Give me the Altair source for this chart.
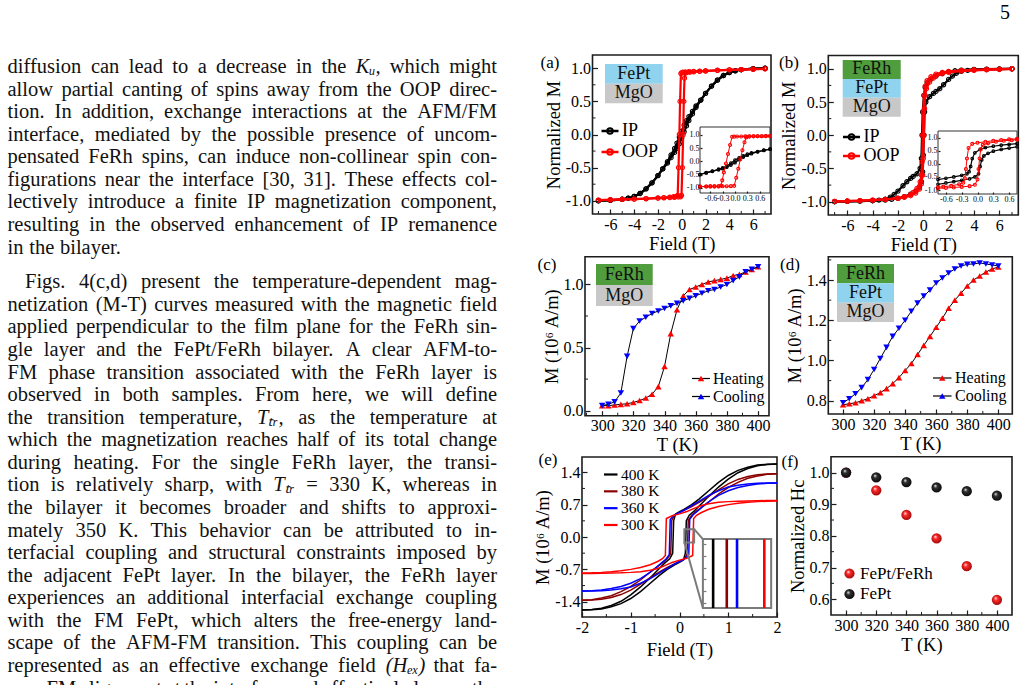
import altair as alt
import pandas as pd

FONT = "Liberation Serif"
INK = "#1c1c1c"
PAGE_W, PAGE_H = 1029, 685
RED, BLUE, BLACK, MAROON = "#ff0000", "#0000ff", "#000000", "#8b0000"
C_FEPT, C_MGO, C_FERH = "#8fd3ef", "#c8c8c8", "#4f9d3c"

# ------------------------------------------------------------------ body text
PARA_1 = [
    "diffusion can lead to a decrease in the Kᵤ, which might",
    "allow partial canting of spins away from the OOP direc-",
    "tion. In addition, exchange interactions at the AFM/FM",
    "interface, mediated by the possible presence of uncom-",
    "pensated FeRh spins, can induce non-collinear spin con-",
    "figurations near the interface [30, 31]. These effects col-",
    "lectively introduce a finite IP magnetization component,",
    "resulting in the observed enhancement of IP remanence",
    "in the bilayer.",
]
PARA_2 = [
    "Figs. 4(c,d) present the temperature-dependent mag-",
    "netization (M-T) curves measured with the magnetic field",
    "applied perpendicular to the film plane for the FeRh sin-",
    "gle layer and the FePt/FeRh bilayer. A clear AFM-to-",
    "FM phase transition associated with the FeRh layer is",
    "observed in both samples. From here, we will define",
    "the transition temperature, Tₜᵣ, as the temperature at",
    "which the magnetization reaches half of its total change",
    "during heating. For the single FeRh layer, the transi-",
    "tion is relatively sharp, with Tₜᵣ = 330 K, whereas in",
    "the bilayer it becomes broader and shifts to approxi-",
    "mately 350 K. This behavior can be attributed to in-",
    "terfacial coupling and structural constraints imposed by",
    "the adjacent FePt layer. In the bilayer, the FeRh layer",
    "experiences an additional interfacial exchange coupling",
    "with the FM FePt, which alters the free-energy land-",
    "scape of the AFM-FM transition. This coupling can be",
    "represented as an effective exchange field (Hₑₓ) that fa-",
    "vors FM alignment at the interface and effectively lowers the",
]
PARAGRAPHS = [PARA_1, PARA_2]
PARA_ENDS = [True, False]
PAGE_NO = "5"

TEXT_SIZE = 20.5
LEFT_X, RIGHT_X, INDENT_X = 7.5, 497.0, 25.0
BASE_Y, LINE_STEP, PAR_SKIP = 73.0, 22.57, 0.54

# Times-compatible advance widths (1/1000 em) used to justify the lines
GLYPH_W = {}
for chars, w in [(" .,", 250), ("ijlt:;/", 278), ("fr()-[]I'!", 333), ("sJ", 389),
                 ("acez?", 444), ("bdghknopquvxy0123456789", 500), ("FPS", 556),
                 ("+=<>", 564), ("ELTZ", 611), ("BCR", 667), ("ADGHKNOQUVXYw", 722),
                 ("m&", 778), ("M", 889), ("W", 944), ("ᵤₜᵣₑₓ", 220)]:
    for ch in chars:
        GLYPH_W[ch] = w
MATH = set("ᵤₜᵣₑₓ")


def text_width(s, size):
    return sum(GLYPH_W.get(ch, 300) for ch in s) * size / 1000.0


def set_paragraphs():
    rows, r = [], 0.0
    for p, lines in enumerate(PARAGRAPHS):
        if p:
            r += PAR_SKIP
        for k, line in enumerate(lines):
            words = line.split(" ")
            x0 = INDENT_X if (k == 0 and p > 0) else LEFT_X
            widths = [text_width(w, TEXT_SIZE) for w in words]
            ragged = k == len(lines) - 1 and PARA_ENDS[p]
            if ragged or len(words) < 2:
                gap = 0.28 * TEXT_SIZE
            else:
                gap = (RIGHT_X - x0 - sum(widths)) / (len(words) - 1)
            x = x0
            for w, wd in zip(words, widths):
                rows.append({"word": w, "x": x, "row": r, "math": any(c in MATH for c in w)})
                x += wd + gap
            r += 1
    return pd.DataFrame(rows)


# ------------------------------------------------------------------ (a) FePt / MgO, M-H loops
A_IP_H_DN = [7, 6, 5, 4.5, 4, 3.5, 3, 2.5, 2, 1.6, 1.2, 0.9, 0.6, 0.4, 0.2, 0, -0.2, -0.4, -0.6, -0.9, -1.2, -1.6, -2, -2.5, -3, -3.5, -4, -4.5, -5, -6, -7]
A_IP_M_DN = [1.0, 0.993, 0.978, 0.962, 0.935, 0.89, 0.82, 0.73, 0.62, 0.52, 0.43, 0.35, 0.27, 0.21, 0.14, 0.05, -0.04, -0.13, -0.21, -0.31, -0.41, -0.52, -0.62, -0.73, -0.82, -0.89, -0.935, -0.962, -0.978, -0.993, -1.0]
A_IP_H_UP = [-7, -6, -5, -4.5, -4, -3.5, -3, -2.5, -2, -1.6, -1.2, -0.9, -0.6, -0.4, -0.2, 0, 0.2, 0.4, 0.6, 0.9, 1.2, 1.6, 2, 2.5, 3, 3.5, 4, 4.5, 5, 6, 7]
A_IP_M_UP = [-1.0, -0.993, -0.978, -0.962, -0.935, -0.89, -0.82, -0.73, -0.62, -0.52, -0.43, -0.35, -0.27, -0.21, -0.14, -0.05, 0.04, 0.13, 0.21, 0.31, 0.41, 0.52, 0.62, 0.73, 0.82, 0.89, 0.935, 0.962, 0.978, 0.993, 1.0]
A_OOP_H_DN = [7, 6, 5, 4, 3, 2, 1.5, 1.0, 0.6, 0.3, 0.1, 0.0, -0.07, -0.14, -0.2, -0.27, -0.34, -0.45, -0.7, -1.0, -1.5, -2, -3, -4, -5, -6, -7]
A_OOP_M_DN = [0.99, 0.985, 0.98, 0.975, 0.97, 0.962, 0.957, 0.952, 0.947, 0.943, 0.94, 0.935, 0.92, 0.5, 0.0, -0.5, -0.92, -0.935, -0.94, -0.945, -0.952, -0.957, -0.967, -0.975, -0.98, -0.985, -0.99]
A_OOP_H_UP = [-7, -6, -5, -4, -3, -2, -1.5, -1.0, -0.6, -0.3, -0.1, -0.02, 0.05, 0.12, 0.17, 0.23, 0.29, 0.4, 0.7, 1.0, 1.5, 2, 3, 4, 5, 6, 7]
A_OOP_M_UP = [-0.99, -0.985, -0.98, -0.975, -0.97, -0.962, -0.957, -0.952, -0.947, -0.943, -0.94, -0.92, -0.5, 0.0, 0.5, 0.85, 0.925, 0.935, 0.94, 0.945, 0.952, 0.957, 0.967, 0.975, 0.98, 0.985, 0.99]
# low-field detail (inset)
AI_OOP_H_DN = [0.85, 0.75, 0.65, 0.55, 0.45, 0.35, 0.25, 0.15, 0.05, -0.02, -0.07, -0.12, -0.17, -0.22, -0.27, -0.31, -0.34, -0.4, -0.5, -0.6, -0.7, -0.85]
AI_OOP_M_DN = [0.955, 0.955, 0.95, 0.95, 0.95, 0.945, 0.945, 0.94, 0.94, 0.935, 0.93, 0.62, 0.28, -0.08, -0.42, -0.72, -0.92, -0.945, -0.95, -0.95, -0.955, -0.96]
AI_OOP_H_UP = [-0.85, -0.7, -0.6, -0.5, -0.4, -0.3, -0.2, -0.1, -0.02, 0.03, 0.08, 0.13, 0.18, 0.23, 0.27, 0.29, 0.35, 0.45, 0.55, 0.65, 0.75, 0.85]
AI_OOP_M_UP = [-0.96, -0.955, -0.95, -0.95, -0.95, -0.945, -0.945, -0.94, -0.93, -0.62, -0.28, 0.08, 0.42, 0.72, 0.9, 0.93, 0.94, 0.945, 0.95, 0.95, 0.955, 0.96]
AI_IP_H_DN = [0.85, 0.7, 0.55, 0.4, 0.3, 0.2, 0.1, 0.0, -0.1, -0.2, -0.3, -0.4, -0.55, -0.7, -0.85]
AI_IP_M_DN = [0.46, 0.42, 0.37, 0.32, 0.27, 0.21, 0.13, 0.05, -0.07, -0.18, -0.25, -0.30, -0.37, -0.43, -0.50]
AI_IP_H_UP = [-0.85, -0.7, -0.55, -0.4, -0.3, -0.2, -0.1, 0.0, 0.1, 0.2, 0.3, 0.4, 0.55, 0.7, 0.85]
AI_IP_M_UP = [-0.50, -0.44, -0.38, -0.32, -0.28, -0.22, -0.14, -0.05, 0.06, 0.16, 0.23, 0.29, 0.36, 0.41, 0.46]

# ------------------------------------------------------------------ (b) FeRh / FePt / MgO, M-H loops
B_IP_H_DN = [7, 6, 5, 4, 3, 2.5, 2, 1.5, 1.0, 0.6, 0.3, 0.15, 0.05, -0.05, -0.1, -0.15, -0.25, -0.5, -0.8, -1.0, -1.3, -1.6, -2.0, -2.3, -2.6, -3, -3.5, -4, -5, -6, -7]
B_IP_M_DN = [1.0, 0.998, 0.995, 0.99, 0.98, 0.97, 0.955, 0.93, 0.89, 0.845, 0.79, 0.72, 0.6, 0.35, 0.0, -0.35, -0.5, -0.58, -0.62, -0.65, -0.7, -0.76, -0.84, -0.89, -0.93, -0.96, -0.975, -0.985, -0.99, -0.995, -1.0]
B_IP_H_UP = [-7, -6, -5, -4, -3, -2.5, -2, -1.5, -1.0, -0.6, -0.3, -0.15, -0.05, 0.0, 0.05, 0.1, 0.2, 0.5, 0.8, 1.0, 1.3, 1.6, 2.0, 2.3, 2.6, 3, 3.5, 4, 5, 6, 7]
B_IP_M_UP = [-1.0, -0.995, -0.99, -0.985, -0.975, -0.965, -0.95, -0.925, -0.885, -0.84, -0.78, -0.70, -0.55, -0.3, 0.0, 0.35, 0.5, 0.58, 0.63, 0.66, 0.70, 0.76, 0.84, 0.89, 0.93, 0.96, 0.975, 0.985, 0.99, 0.995, 1.0]
B_OOP_H_DN = [7, 6, 5, 4, 3, 2, 1.5, 1.0, 0.6, 0.3, 0.15, 0.05, 0.0, -0.05, -0.1, -0.15, -0.25, -0.5, -0.8, -1.0, -1.5, -2, -3, -4, -5, -6, -7]
B_OOP_M_DN = [1.0, 0.995, 0.99, 0.985, 0.975, 0.96, 0.945, 0.92, 0.88, 0.82, 0.74, 0.6, 0.35, 0.0, -0.4, -0.6, -0.7, -0.8, -0.86, -0.89, -0.925, -0.945, -0.965, -0.975, -0.985, -0.99, -0.995]
B_OOP_H_UP = [-7, -6, -5, -4, -3, -2, -1.5, -1.0, -0.6, -0.3, -0.15, -0.05, 0.0, 0.05, 0.1, 0.15, 0.25, 0.5, 0.8, 1.0, 1.5, 2, 3, 4, 5, 6, 7]
B_OOP_M_UP = [-0.995, -0.99, -0.985, -0.975, -0.965, -0.95, -0.935, -0.91, -0.87, -0.81, -0.73, -0.6, -0.35, 0.0, 0.4, 0.6, 0.7, 0.8, 0.86, 0.89, 0.925, 0.945, 0.965, 0.975, 0.985, 0.99, 1.0]
BI_OOP_H_DN = [0.75, 0.6, 0.45, 0.3, 0.15, 0.0, -0.1, -0.17, -0.2, -0.22, -0.24, -0.27, -0.35, -0.5, -0.65, -0.75]
BI_OOP_M_DN = [0.95, 0.93, 0.91, 0.88, 0.84, 0.80, 0.76, 0.6, 0.2, -0.2, -0.55, -0.72, -0.78, -0.84, -0.87, -0.89]
BI_OOP_H_UP = [-0.75, -0.6, -0.45, -0.3, -0.15, -0.05, 0.0, 0.02, 0.04, 0.06, 0.1, 0.2, 0.35, 0.5, 0.65, 0.75]
BI_OOP_M_UP = [-0.93, -0.92, -0.9, -0.88, -0.85, -0.8, -0.6, -0.2, 0.2, 0.55, 0.72, 0.78, 0.84, 0.88, 0.9, 0.92]
BI_IP_H_DN = [0.75, 0.6, 0.45, 0.3, 0.15, 0.05, -0.05, -0.1, -0.13, -0.16, -0.2, -0.3, -0.45, -0.6, -0.75]
BI_IP_M_DN = [0.77, 0.74, 0.71, 0.67, 0.62, 0.55, 0.42, 0.2, -0.1, -0.3, -0.38, -0.44, -0.5, -0.55, -0.6]
BI_IP_H_UP = [-0.75, -0.6, -0.45, -0.3, -0.15, -0.05, 0.02, 0.05, 0.08, 0.12, 0.2, 0.3, 0.45, 0.6, 0.75]
BI_IP_M_UP = [-0.78, -0.73, -0.68, -0.63, -0.57, -0.5, -0.38, -0.1, 0.15, 0.3, 0.4, 0.48, 0.55, 0.6, 0.65]

# ------------------------------------------------------------------ (c), (d) M-T, heating / cooling
MT_T = [300, 304, 308, 312, 316, 320, 324, 328, 332, 336, 340, 344, 348, 352, 356, 360, 364, 368, 372, 376, 380, 384, 388, 392, 396, 400]
C_HEAT = [0.04, 0.04, 0.045, 0.05, 0.055, 0.065, 0.08, 0.10, 0.13, 0.19, 0.35, 0.61, 0.80, 0.91, 0.96, 0.98, 1.00, 1.02, 1.03, 1.04, 1.05, 1.07, 1.08, 1.10, 1.12, 1.14]
C_COOL = [0.04, 0.05, 0.07, 0.14, 0.43, 0.65, 0.71, 0.74, 0.77, 0.79, 0.81, 0.83, 0.85, 0.87, 0.89, 0.91, 0.93, 0.95, 0.96, 0.98, 1.00, 1.03, 1.06, 1.10, 1.12, 1.14]
D_HEAT = [0.78, 0.785, 0.79, 0.80, 0.81, 0.825, 0.84, 0.86, 0.885, 0.915, 0.95, 0.985, 1.03, 1.075, 1.12, 1.165, 1.21, 1.26, 1.30, 1.335, 1.37, 1.40, 1.42, 1.44, 1.455, 1.465]
D_COOL = [0.79, 0.81, 0.835, 0.865, 0.905, 0.955, 1.01, 1.065, 1.12, 1.16, 1.20, 1.245, 1.285, 1.32, 1.35, 1.385, 1.41, 1.435, 1.455, 1.47, 1.478, 1.48, 1.485, 1.48, 1.475, 1.47]

# ------------------------------------------------------------------ (e) bilayer M-H loops at several temperatures
E_TEMPS = ["400 K", "380 K", "360 K", "300 K"]
E_COLORS = [BLACK, MAROON, BLUE, RED]
E400_H_DN = [2.0, 1.8, 1.6, 1.4, 1.2, 1.0, 0.8, 0.6, 0.4, 0.25, 0.1, 0.0, -0.08, -0.12, -0.14, -0.2, -0.3, -0.45, -0.6, -0.8, -1.0, -1.2, -1.4, -1.6, -1.8, -2.0]
E400_M_DN = [1.58, 1.575, 1.555, 1.51, 1.44, 1.33, 1.18, 1.0, 0.82, 0.7, 0.6, 0.55, 0.5, 0.35, -0.35, -0.47, -0.56, -0.72, -0.88, -1.08, -1.25, -1.39, -1.48, -1.54, -1.57, -1.58]
E400_H_UP = [-2.0, -1.8, -1.6, -1.4, -1.2, -1.0, -0.8, -0.6, -0.4, -0.25, -0.1, 0.0, 0.08, 0.12, 0.14, 0.2, 0.3, 0.45, 0.6, 0.8, 1.0, 1.2, 1.4, 1.6, 1.8, 2.0]
E400_M_UP = [-1.58, -1.575, -1.555, -1.51, -1.44, -1.33, -1.18, -1.0, -0.82, -0.7, -0.6, -0.55, -0.5, -0.35, 0.35, 0.47, 0.56, 0.72, 0.88, 1.08, 1.25, 1.39, 1.48, 1.54, 1.57, 1.58]
E380_H_DN = [2.0, 1.8, 1.6, 1.4, 1.2, 1.0, 0.8, 0.6, 0.4, 0.25, 0.1, 0.0, -0.1, -0.16, -0.18, -0.25, -0.35, -0.5, -0.65, -0.8, -1.0, -1.2, -1.4, -1.6, -1.8, -2.0]
E380_M_DN = [1.37, 1.365, 1.345, 1.31, 1.245, 1.15, 1.02, 0.88, 0.75, 0.66, 0.58, 0.53, 0.48, 0.36, -0.36, -0.47, -0.56, -0.68, -0.8, -0.93, -1.07, -1.18, -1.27, -1.32, -1.355, -1.37]
E380_H_UP = [-2.0, -1.8, -1.6, -1.4, -1.2, -1.0, -0.8, -0.6, -0.4, -0.25, -0.1, 0.0, 0.1, 0.16, 0.18, 0.25, 0.35, 0.5, 0.65, 0.8, 1.0, 1.2, 1.4, 1.6, 1.8, 2.0]
E380_M_UP = [-1.37, -1.365, -1.345, -1.31, -1.245, -1.15, -1.02, -0.88, -0.75, -0.66, -0.58, -0.53, -0.48, -0.36, 0.36, 0.47, 0.56, 0.68, 0.8, 0.93, 1.07, 1.18, 1.27, 1.32, 1.355, 1.37]
E360_H_DN = [2.0, 1.8, 1.6, 1.4, 1.2, 1.0, 0.8, 0.6, 0.4, 0.25, 0.1, 0.0, -0.1, -0.19, -0.21, -0.28, -0.38, -0.5, -0.65, -0.8, -1.0, -1.2, -1.4, -1.6, -1.8, -2.0]
E360_M_DN = [1.17, 1.168, 1.16, 1.145, 1.12, 1.08, 1.0, 0.9, 0.77, 0.68, 0.58, 0.53, 0.48, 0.38, -0.38, -0.48, -0.57, -0.68, -0.8, -0.9, -1.0, -1.07, -1.115, -1.145, -1.162, -1.17]
E360_H_UP = [-2.0, -1.8, -1.6, -1.4, -1.2, -1.0, -0.8, -0.6, -0.4, -0.25, -0.1, 0.0, 0.1, 0.19, 0.21, 0.28, 0.38, 0.5, 0.65, 0.8, 1.0, 1.2, 1.4, 1.6, 1.8, 2.0]
E360_M_UP = [-1.17, -1.168, -1.16, -1.145, -1.12, -1.08, -1.0, -0.9, -0.77, -0.68, -0.58, -0.53, -0.48, -0.38, 0.38, 0.48, 0.57, 0.68, 0.8, 0.9, 1.0, 1.07, 1.115, 1.145, 1.162, 1.17]
E300_H_DN = [2.0, 1.8, 1.6, 1.4, 1.2, 1.0, 0.8, 0.6, 0.45, 0.3, 0.15, 0.0, -0.15, -0.27, -0.29, -0.35, -0.45, -0.6, -0.8, -1.0, -1.2, -1.4, -1.6, -1.8, -2.0]
E300_M_DN = [0.79, 0.788, 0.785, 0.78, 0.775, 0.765, 0.75, 0.72, 0.68, 0.62, 0.55, 0.5, 0.46, 0.4, -0.4, -0.47, -0.53, -0.6, -0.66, -0.7, -0.73, -0.75, -0.765, -0.775, -0.78]
E300_H_UP = [-2.0, -1.8, -1.6, -1.4, -1.2, -1.0, -0.8, -0.6, -0.45, -0.3, -0.15, 0.0, 0.15, 0.27, 0.29, 0.35, 0.45, 0.6, 0.8, 1.0, 1.2, 1.4, 1.6, 1.8, 2.0]
E300_M_UP = [-0.79, -0.788, -0.785, -0.78, -0.775, -0.765, -0.75, -0.72, -0.68, -0.62, -0.55, -0.5, -0.46, -0.4, 0.4, 0.47, 0.53, 0.6, 0.66, 0.7, 0.73, 0.75, 0.765, 0.775, 0.78]
# zero-crossing fields of the rising branches, seen in the magnified window
E_ZOOM_H0 = [0.13, 0.17, 0.20, 0.28]
E_ZOOM_H = [0.10, 0.30]
E_ZOOM_M = [-0.12, 0.17]
E_ZOOM_TICKS = [-0.1, -0.05, 0.0, 0.05, 0.1, 0.15]
E_BOX_H = [0.48, 1.88]     # where the magnified window sits, in field units
E_BOX_M = [-1.535, -0.045]

# ------------------------------------------------------------------ (f) normalised coercivity
F_T = [300, 320, 340, 360, 380, 400]
F_FEPT = [1.0, 0.985, 0.97, 0.953, 0.941, 0.927]
F_BILAYER = [1.0, 0.944, 0.866, 0.792, 0.704, 0.598]


# ------------------------------------------------------------------ helpers
def lin(domain, rng):
    return alt.Scale(domain=domain, range=rng, zero=False, nice=False)


MINUS_FIX = "replace(datum.label, '\u2212', '-')"
TICK_FONT = 16


def bottom_axis(values, fmt, y_px, title="", size=TICK_FONT, tick=5, tsize=18.5, tpad=2, lpad=2,
                labels=True, color=INK):
    return alt.Axis(orient="bottom", offset=y_px - tick - PAGE_H, values=values, format=fmt,
                    grid=False, domain=False, tickSize=tick, tickWidth=1.2, tickColor=color,
                    labels=labels, labelFont=FONT, labelFontSize=size, labelColor="black",
                    labelPadding=lpad, labelOverlap=False, labelFlush=False, labelExpr=MINUS_FIX,
                    title=title, titleFont=FONT, titleFontSize=tsize, titleFontWeight="normal",
                    titleColor="black", titlePadding=tpad, zindex=1)


def left_axis(values, fmt, x_px, title="", size=TICK_FONT, tick=5, tsize=18.5, tpad=2, lpad=2,
              labels=True, color=INK):
    return alt.Axis(orient="left", offset=-(x_px + tick), values=values, format=fmt,
                    grid=False, domain=False, tickSize=tick, tickWidth=1.2, tickColor=color,
                    labels=labels, labelFont=FONT, labelFontSize=size, labelColor="black",
                    labelPadding=lpad, labelOverlap=False, labelFlush=False, labelExpr=MINUS_FIX,
                    title=title, titleFont=FONT, titleFontSize=tsize, titleFontWeight="normal",
                    titleColor="black", titlePadding=tpad, zindex=1)


class Panel:
    """One coordinate system: scales plus the axes every layer in it repeats."""

    def __init__(self, xd, xr, yd, yr, xax, yax):
        self.xd, self.xr, self.yd, self.yr = xd, xr, yd, yr
        self.xs, self.ys = lin(xd, xr), lin(yd, yr)
        self.xax, self.yax = xax, yax

    def X(self, field):
        return alt.X(field, scale=self.xs, axis=self.xax)

    def Y(self, field):
        return alt.Y(field, scale=self.ys, axis=self.yax)

    def frame(self, stroke=INK, width=1.6, fill=""):
        df = pd.DataFrame({"x0": [self.xd[0]], "x1": [self.xd[1]], "y0": [self.yd[0]], "y1": [self.yd[1]]})
        if fill:
            mk = alt.Chart(df).mark_rect(fill=fill, stroke=stroke, strokeWidth=width)
        else:
            mk = alt.Chart(df).mark_rect(filled=False, stroke=stroke, strokeWidth=width)
        return mk.encode(x=self.X("x0:Q"), x2="x1:Q", y=self.Y("y0:Q"), y2="y1:Q")

    def minor_ticks(self, xvals, yvals, length=3):
        out = []
        if xvals:
            out.append(alt.Chart(pd.DataFrame({"v": xvals})).mark_rule(color=INK, strokeWidth=1).encode(
                x=self.X("v:Q"), y=alt.value(self.yr[0]), y2=alt.value(self.yr[0] - length)))
        if yvals:
            out.append(alt.Chart(pd.DataFrame({"v": yvals})).mark_rule(color=INK, strokeWidth=1).encode(
                y=self.Y("v:Q"), x=alt.value(self.xr[0]), x2=alt.value(self.xr[0] + length)))
        return out

    def curve(self, branches, color, width, marker="", msize=20, mfilled=False, line_color=""):
        rows = []
        for b, (xs, ys) in enumerate(branches):
            for i, (xv, yv) in enumerate(zip(xs, ys)):
                rows.append({"X": xv, "Y": yv, "branch": b, "i": i})
        base = alt.Chart(pd.DataFrame(rows)).encode(x=self.X("X:Q"), y=self.Y("Y:Q"))
        out = [base.mark_line(color=line_color or color, strokeWidth=width).encode(
            detail="branch:N", order="i:Q")]
        if marker:
            out.append(base.mark_point(shape=marker, size=msize, filled=mfilled, color=color,
                                       strokeWidth=1.1, opacity=1))
        return out


def stack(names, colors, x_rng, y_rng, size=18):
    df = pd.DataFrame({"layer": names})
    y = alt.Y("layer:N", scale=alt.Scale(type="band", domain=names, range=y_rng,
                                        paddingInner=0, paddingOuter=0), axis=None)
    boxes = alt.Chart(df).mark_rect().encode(
        x=alt.value(x_rng[0]), x2=alt.value(x_rng[1]), y=y,
        color=alt.Color("layer:N", scale=alt.Scale(domain=names, range=colors), legend=None))
    labels = alt.Chart(df).mark_text(font=FONT, fontSize=size, color="#111", baseline="middle").encode(
        x=alt.value((x_rng[0] + x_rng[1]) / 2), y=y, text="layer:N")
    return alt.layer(boxes, labels)


def key(labels, colors, y_rng, x_line, x_text, size=16, marker="", msize=40, mfilled=True,
        line_color="", line_w=1.6, mstroke=1.2):
    df = pd.DataFrame({"label": labels, "col": colors})
    y = alt.Y("label:N", scale=alt.Scale(type="point", domain=labels, range=y_rng, padding=0), axis=None)
    col = alt.Color("col:N", scale=None)
    parts = []
    if line_color:
        parts.append(alt.Chart(df).mark_rule(color=line_color, strokeWidth=line_w).encode(
            x=alt.value(x_line[0]), x2=alt.value(x_line[1]), y=y))
    else:
        parts.append(alt.Chart(df).mark_rule(strokeWidth=line_w).encode(
            x=alt.value(x_line[0]), x2=alt.value(x_line[1]), y=y, color=col))
    if marker:
        parts.append(alt.Chart(df).mark_point(shape=marker, size=msize, filled=mfilled, opacity=1,
                                              strokeWidth=mstroke).encode(
            x=alt.value((x_line[0] + x_line[1]) / 2), y=y, color=col))
    parts.append(alt.Chart(df).mark_text(font=FONT, fontSize=size, align="left", baseline="middle",
                                         color="black").encode(x=alt.value(x_text), y=y, text="label:N"))
    return alt.layer(*parts)


def label(txt, x, y, size=17, align="center"):
    return alt.Chart(pd.DataFrame({"t": [txt]})).mark_text(
        font=FONT, fontSize=size, align=align, baseline="middle", color="black").encode(
        x=alt.value(x), y=alt.value(y), text="t:N")


def ball(mid, dark):
    return alt.RadialGradient(gradient="radial", x1=0.36, y1=0.33, r1=0.0, x2=0.5, y2=0.5, r2=0.62,
                              stops=[alt.GradientStop(offset=0.0, color="#ffffff"),
                                     alt.GradientStop(offset=0.3, color=mid),
                                     alt.GradientStop(offset=1.0, color=dark)])


layers = []

# ------------------------------------------------------------------ body text
words = set_paragraphs()
ty = lin([0, 1], [BASE_Y, BASE_Y + LINE_STEP])


def body(df, style):
    return alt.Chart(df).mark_text(font=FONT, fontSize=TEXT_SIZE, align="left", baseline="alphabetic",
                                   color="#111", fontStyle=style).encode(
        x=alt.X("x:Q", scale=None, axis=None), y=alt.Y("row:Q", scale=ty, axis=None), text="word:N")


layers.append(alt.layer(body(words[~words["math"]], "normal"), body(words[words["math"]], "italic")))
layers.append(label(PAGE_NO, 1005, 13, size=20))

# ------------------------------------------------------------------ panel (a)
pa = Panel([-7.5, 7.5], [592.5, 771], [-1.2, 1.2], [214, 55],
           bottom_axis([-6, -4, -2, 0, 2, 4, 6], "d", 214, "Field (T)"),
           left_axis([-1, -0.5, 0, 0.5, 1], ".1f", 592.5, "Normalized M"))
layers.append(alt.layer(
    pa.frame(),
    *pa.minor_ticks([-7, -5, -3, -1, 1, 3, 5, 7], [-0.75, -0.25, 0.25, 0.75]),
    *pa.curve([(A_IP_H_DN, A_IP_M_DN), (A_IP_H_UP, A_IP_M_UP)], BLACK, 2.2, "circle", 18),
    *pa.curve([(A_OOP_H_DN, A_OOP_M_DN), (A_OOP_H_UP, A_OOP_M_UP)], RED, 2.2, "circle", 18),
))
pai = Panel([-0.85, 0.85], [700, 770], [-1.2, 1.3], [193, 127],
            bottom_axis([-0.6, -0.3, 0, 0.3, 0.6], ".1f", 193, size=8, tick=2, lpad=1),
            left_axis([-1, -0.5, 0, 0.5, 1], ".1f", 700, size=8, tick=2, lpad=1))
layers.append(alt.layer(
    pai.frame(stroke="#333", width=1, fill="white"),
    *pai.curve([(AI_IP_H_DN, AI_IP_M_DN), (AI_IP_H_UP, AI_IP_M_UP)], BLACK, 1.2, "circle", 7),
    *pai.curve([(AI_OOP_H_DN, AI_OOP_M_DN), (AI_OOP_H_UP, AI_OOP_M_UP)], RED, 1.0, "circle", 9),
))
layers.append(stack(["FePt", "MgO"], [C_FEPT, C_MGO], [605, 662.7], [64, 103.3]))
layers.append(key(["IP", "OOP"], [BLACK, RED], [131, 152], [601.5, 618.5], 622, size=18,
                  marker="circle", msize=30, mfilled=False, line_w=2.5, mstroke=2))
layers.append(label("(a)", 550, 63))

# ------------------------------------------------------------------ panel (b)
pb = Panel([-7.5, 7.5], [828.3, 1018.3], [-1.2, 1.2], [215, 55.5],
           bottom_axis([-6, -4, -2, 0, 2, 4, 6], "d", 215, "Field (T)"),
           left_axis([-1, -0.5, 0, 0.5, 1], ".1f", 828.3, "Normalized M"))
layers.append(alt.layer(
    pb.frame(),
    *pb.minor_ticks([-7, -5, -3, -1, 1, 3, 5, 7], [-0.75, -0.25, 0.25, 0.75]),
    *pb.curve([(B_IP_H_DN, B_IP_M_DN), (B_IP_H_UP, B_IP_M_UP)], BLACK, 2.2, "circle", 18),
    *pb.curve([(B_OOP_H_DN, B_OOP_M_DN), (B_OOP_H_UP, B_OOP_M_UP)], RED, 2.2, "circle", 18),
))
pbi = Panel([-0.75, 0.75], [938, 1017], [-1.15, 1.25], [194, 131],
            bottom_axis([-0.6, -0.3, 0, 0.3, 0.6], ".1f", 194, size=8, tick=2, lpad=1),
            left_axis([-1, -0.5, 0, 0.5, 1], ".1f", 938, size=8, tick=2, lpad=1))
layers.append(alt.layer(
    pbi.frame(stroke="#333", width=1, fill="white"),
    *pbi.curve([(BI_IP_H_DN, BI_IP_M_DN), (BI_IP_H_UP, BI_IP_M_UP)], BLACK, 1.2, "circle", 7),
    *pbi.curve([(BI_OOP_H_DN, BI_OOP_M_DN), (BI_OOP_H_UP, BI_OOP_M_UP)], RED, 1.0, "circle", 9),
))
layers.append(stack(["FeRh", "FePt", "MgO"], [C_FERH, C_FEPT, C_MGO], [842.7, 900.7], [60, 116.7]))
layers.append(key(["IP", "OOP"], [BLACK, RED], [137, 156], [843, 860], 863.5, size=18,
                  marker="circle", msize=30, mfilled=False, line_w=2.5, mstroke=2))
layers.append(label("(b)", 789, 63))

# ------------------------------------------------------------------ panel (c)
pc = Panel([289, 407], [585, 769], [-0.04, 1.22], [415.7, 256.7],
           bottom_axis([300, 320, 340, 360, 380, 400], "d", 415.7, "T (K)"),
           left_axis([0, 0.5, 1.0], ".1f", 585, "M (10⁶ A/m)"))
layers.append(alt.layer(
    pc.frame(),
    *pc.minor_ticks([290, 310, 330, 350, 370, 390], [0.25, 0.75]),
    *pc.curve([(MT_T, C_HEAT)], RED, 1.0, "triangle-up", 42, True, line_color=BLACK),
    *pc.curve([(MT_T, C_COOL)], BLUE, 1.0, "triangle-down", 42, True, line_color=BLACK),
))
layers.append(stack(["FeRh", "MgO"], [C_FERH, C_MGO], [596, 652.7], [264, 306]))
layers.append(key(["Heating", "Cooling"], [RED, BLUE], [378.5, 396.5], [692, 710], 713, size=16,
                  line_color=BLACK, line_w=1.2, marker="triangle-up", msize=42))
layers.append(label("(c)", 547, 265))

# ------------------------------------------------------------------ panel (d)
pd_ = Panel([290.5, 409], [828.3, 1012.3], [0.734, 1.516], [414, 256.7],
            bottom_axis([300, 320, 340, 360, 380, 400], "d", 414, "T (K)"),
            left_axis([0.8, 1.0, 1.2, 1.4], ".1f", 828.3, "M (10⁶ A/m)"))
layers.append(alt.layer(
    pd_.frame(),
    *pd_.minor_ticks([310, 330, 350, 370, 390], [0.9, 1.1, 1.3, 1.5]),
    *pd_.curve([(MT_T, D_HEAT)], RED, 1.0, "triangle-up", 42, True, line_color=BLACK),
    *pd_.curve([(MT_T, D_COOL)], BLUE, 1.0, "triangle-down", 42, True, line_color=BLACK),
))
layers.append(stack(["FeRh", "FePt", "MgO"], [C_FERH, C_FEPT, C_MGO], [837, 894], [264, 322]))
layers.append(key(["Heating", "Cooling"], [RED, BLUE], [378, 396], [933, 951.5], 955, size=16,
                  line_color=BLACK, line_w=1.2, marker="triangle-up", msize=42))
layers.append(label("(d)", 790, 265))

# ------------------------------------------------------------------ panel (e)
pe = Panel([-2, 2], [582, 777], [-1.73, 1.73], [617, 457],
           bottom_axis([-2, -1, 0, 1, 2], "d", 617, "Field (T)", tpad=5),
           left_axis([-1.4, -0.7, 0, 0.7, 1.4], ".1f", 582, "M (10⁶ A/m)"))


def e_px(v, d, r):
    return r[0] + (v - d[0]) / (d[1] - d[0]) * (r[1] - r[0])


e_loops = [[(E400_H_DN, E400_M_DN), (E400_H_UP, E400_M_UP)],
           [(E380_H_DN, E380_M_DN), (E380_H_UP, E380_M_UP)],
           [(E360_H_DN, E360_M_DN), (E360_H_UP, E360_M_UP)],
           [(E300_H_DN, E300_M_DN), (E300_H_UP, E300_M_UP)]]
e_curves = []
for branches, col in zip(e_loops, E_COLORS):
    e_curves += pe.curve(branches, col, 1.5)
zoom_box = pd.DataFrame({"x0": [E_ZOOM_H[0]], "x1": [E_ZOOM_H[1]], "y0": [E_ZOOM_M[0]], "y1": [E_ZOOM_M[1]]})
connectors = pd.DataFrame({"x0": [E_ZOOM_H[1], E_ZOOM_H[0]], "y0": [E_ZOOM_M[1], E_ZOOM_M[0]],
                           "x1": [E_BOX_H[0], E_BOX_H[0]], "y1": [E_BOX_M[1], E_BOX_M[0]]})
layers.append(alt.layer(
    pe.frame(),
    *pe.minor_ticks([-1.5, -0.5, 0.5, 1.5], [-1.05, -0.35, 0.35, 1.05]),
    *e_curves,
    alt.Chart(zoom_box).mark_rect(filled=False, stroke="#7a7a7a", strokeWidth=2).encode(
        x=pe.X("x0:Q"), x2="x1:Q", y=pe.Y("y0:Q"), y2="y1:Q"),
    alt.Chart(connectors).mark_rule(color="#7a7a7a", strokeWidth=2).encode(
        x=pe.X("x0:Q"), x2="x1:Q", y=pe.Y("y0:Q"), y2="y1:Q"),
))
EI_XR = [e_px(E_BOX_H[0], pe.xd, pe.xr), e_px(E_BOX_H[1], pe.xd, pe.xr)]
EI_YR = [e_px(E_BOX_M[0], pe.yd, pe.yr), e_px(E_BOX_M[1], pe.yd, pe.yr)]
pei = Panel(E_ZOOM_H, EI_XR, E_ZOOM_M, EI_YR, None,
            left_axis(E_ZOOM_TICKS, ".2f", EI_XR[0], labels=False, tick=3, color="#7a7a7a"))
zoom_lines = pd.DataFrame({"h0": E_ZOOM_H0, "col": E_COLORS,
                           "lo": [E_ZOOM_M[0]] * 4, "hi": [E_ZOOM_M[1]] * 4})
layers.append(alt.layer(
    pei.frame(stroke="#7a7a7a", width=2, fill="white"),
    alt.Chart(zoom_lines).mark_rule(strokeWidth=2.6).encode(
        x=pei.X("h0:Q"), y=pei.Y("lo:Q"), y2="hi:Q", color=alt.Color("col:N", scale=None)),
))
layers.append(key(E_TEMPS, E_COLORS, [474.5, 525], [604, 617.5], 621, size=15.5, line_w=2.2))
layers.append(label("(e)", 548, 460))

# ------------------------------------------------------------------ panel (f)
pf = Panel([290, 410], [831, 1012], [0.55, 1.05], [615, 456.7],
           bottom_axis([300, 320, 340, 360, 380, 400], "d", 615, "T (K)"),
           left_axis([0.6, 0.7, 0.8, 0.9, 1.0], ".1f", 831, "Normalized Hc"))
f_df = pd.DataFrame({"T": F_T, "fept": F_FEPT, "bi": F_BILAYER})
layers.append(alt.layer(
    pf.frame(),
    *pf.minor_ticks([310, 330, 350, 370, 390], [0.65, 0.75, 0.85, 0.95]),
    alt.Chart(f_df).mark_circle(size=105, opacity=1, color=ball("#ff2a2a", "#8a0000")).encode(
        x=pf.X("T:Q"), y=pf.Y("bi:Q")),
    alt.Chart(f_df).mark_circle(size=105, opacity=1, color=ball("#303030", "#000000")).encode(
        x=pf.X("T:Q"), y=pf.Y("fept:Q")),
))
f_key = pd.DataFrame({"label": ["FePt/FeRh", "FePt"]})
fk_y = alt.Y("label:N", scale=alt.Scale(type="point", domain=["FePt/FeRh", "FePt"], range=[573.5, 594],
                                        padding=0), axis=None)
layers.append(alt.layer(
    alt.Chart(f_key.iloc[[0]]).mark_circle(size=105, opacity=1, color=ball("#ff2a2a", "#8a0000")).encode(
        x=alt.value(849.5), y=fk_y),
    alt.Chart(f_key.iloc[[1]]).mark_circle(size=105, opacity=1, color=ball("#303030", "#000000")).encode(
        x=alt.value(849.5), y=fk_y),
    alt.Chart(f_key).mark_text(font=FONT, fontSize=17, align="left", baseline="middle", color="black").encode(
        x=alt.value(860), y=fk_y, text="label:N"),
))
layers.append(label("(f)", 790, 462))

chart = alt.layer(*layers).resolve_scale(
    x="independent", y="independent", color="independent"
).properties(
    width=PAGE_W, height=PAGE_H, padding=0, background="white",
    autosize=alt.AutoSizeParams(type="none"),
).configure_view(stroke=None)

chart.save("out.html", embed_options={"renderer": "svg", "actions": False})
